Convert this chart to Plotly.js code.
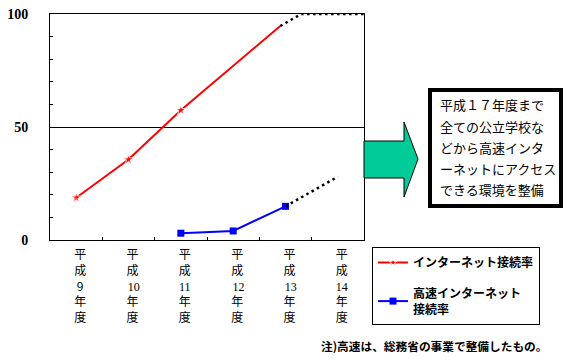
<!DOCTYPE html>
<html>
<head>
<meta charset="utf-8">
<script src="https://cdn.plot.ly/plotly-3.0.1.min.js"></script>
<style>html,body{margin:0;padding:0;background:#fff;}#chart{width:568px;height:360px;}</style>
</head>
<body>
<div id="chart"></div>
<script>
// ---- data ----
const categories = ['平成9年度', '平成10年度', '平成11年度', '平成12年度', '平成13年度', '平成14年度'];
const catIndex = [0, 1, 2, 3, 4, 5];
const serif = (s) => '<span style="font-family:\'Liberation Serif\'">' + s + '</span>';
const tickLabels = [
  '平<br>成<br>9<br>年<br>度',
  '平<br>成<br> ' + serif('10') + '<br>年<br>度',
  '平<br>成<br>' + serif('11') + '<br>年<br>度',
  '平<br>成<br> ' + serif('12') + '<br>年<br>度',
  '平<br>成<br> ' + serif('13') + '<br>年<br>度',
  '平<br>成<br>' + serif('14') + '<br>年<br>度'
];
// インターネット接続率 (actual 平成9–11, trend line to ~平成13)
const netX = [0, 1, 2, 3.9];
const netY = [18.7, 35.6, 57.4, 94.7];
const netMarkerSize = [8, 8, 8, 0];
// projection (dotted)
const netProjX = [3.9, 4.3, 5.5];
const netProjY = [94.7, 100, 100];
// 高速インターネット接続率
const fastX = [2, 3, 4];
const fastY = [3.0, 4.0, 14.9];
const fastProjX = [4, 5];
const fastProjY = [14.9, 28.0];

const seriesNames = ['インターネット接続率', '高速インターネット<br>接続率'];
const noteLines = ['平成１７年度まで', '全ての公立学校な', 'どから高速インタ', 'ーネットにアクセス', 'できる環境を整備'];
const footnote = '注)高速は、総務省の事業で整備したもの。';

// ---- layout helpers (pixel -> paper) ----
const L = 50, R = 364, T = 14, B = 240;
const X = (px) => (px - L) / (R - L);
const Y = (py) => (B - py) / (B - T);
const jp = '"Noto Sans CJK JP", "Noto Sans", sans-serif';

const traces = [
  {x: netX, y: netY, mode: 'lines+markers', name: seriesNames[0], legendgroup: 'a',
   line: {color: '#ff0000', width: 2}, marker: {symbol: 'star', color: '#ff0000', size: netMarkerSize}},
  {x: netProjX, y: netProjY, mode: 'lines', showlegend: false,
   line: {color: '#000000', width: 2.5, dash: '2.5px,3.5px'}},
  {x: fastX, y: fastY, mode: 'lines+markers', name: seriesNames[1], legendgroup: 'b',
   line: {color: '#0000ff', width: 2}, marker: {symbol: 'square', color: '#0000ff', size: 7}},
  {x: fastProjX, y: fastProjY, mode: 'lines', showlegend: false,
   line: {color: '#000000', width: 2.5, dash: '2.5px,3.5px'}}
];

const noteAnns = noteLines.map((t, i) => ({
  xref: 'paper', yref: 'paper', x: X(438), y: Y([105, 126, 147, 168, 189][i]),
  xanchor: 'left', yanchor: 'middle', showarrow: false, text: t,
  font: {family: jp, size: 13, color: '#000'}
}));

const layout = {
  width: 568, height: 360,
  margin: {l: L, r: 568 - R, t: T, b: 360 - B, pad: 0},
  paper_bgcolor: '#fff', plot_bgcolor: '#fff',
  showlegend: true,
  hovermode: false,
  xaxis: {
    range: [-0.5, 5.5], tickmode: 'array', tickvals: catIndex, ticktext: tickLabels,
    ticks: '', showgrid: false, zeroline: false,
    showline: true, linecolor: '#000', linewidth: 1, mirror: true,
    tickfont: {family: jp, size: 12, color: '#000'},
    ticklabelshift: 4, ticklabelstandoff: 4,
    minor: {tickmode: 'array', tickvals: [0.5, 1.5, 2.5, 3.5, 4.5], ticks: 'inside', ticklen: 3, tickcolor: '#000', showgrid: false}
  },
  yaxis: {
    range: [0, 100], tickmode: 'linear', tick0: 0, dtick: 50,
    ticks: 'inside', ticklen: 3, tickcolor: '#000',
    showgrid: true, gridcolor: '#000', gridwidth: 1, zeroline: false,
    showline: true, linecolor: '#000', linewidth: 1, mirror: true,
    tickfont: {family: '"Liberation Serif", serif', size: 14, color: '#000', weight: 'bold'},
    ticklabelstandoff: 18,
    minor: {dtick: 10, ticks: 'inside', ticklen: 3, tickcolor: '#000', showgrid: false}
  },
  legend: {
    x: X(372), y: Y(247), xanchor: 'left', yanchor: 'top',
    bordercolor: '#000', borderwidth: 1, bgcolor: '#fff',
    font: {family: jp, size: 12, color: '#000', weight: 'bold'},
    traceorder: 'grouped', tracegroupgap: 12
  },
  shapes: [
    {type: 'path', xref: 'paper', yref: 'paper', layer: 'above',
     path: 'M' + X(364) + ',' + Y(141) + ' L' + X(404) + ',' + Y(141) + ' L' + X(404) + ',' + Y(122) +
           ' L' + X(418) + ',' + Y(159) + ' L' + X(404) + ',' + Y(197) + ' L' + X(404) + ',' + Y(178) +
           ' L' + X(364) + ',' + Y(178) + ' Z',
     fillcolor: '#00cc99', line: {color: '#000', width: 1}},
    {type: 'rect', xref: 'paper', yref: 'paper', layer: 'above',
     x0: X(430), x1: X(561), y0: Y(90), y1: Y(206),
     fillcolor: 'rgba(0,0,0,0)', line: {color: '#000', width: 4}}
  ],
  annotations: noteAnns.concat([
    {xref: 'paper', yref: 'paper', x: X(434), y: Y(345), xanchor: 'center', yanchor: 'middle',
     showarrow: false, text: footnote, font: {family: jp, size: 11.7, color: '#000', weight: 'bold'}}
  ])
};

Plotly.newPlot('chart', traces, layout, {displayModeBar: false, staticPlot: true});
</script>
</body>
</html>
